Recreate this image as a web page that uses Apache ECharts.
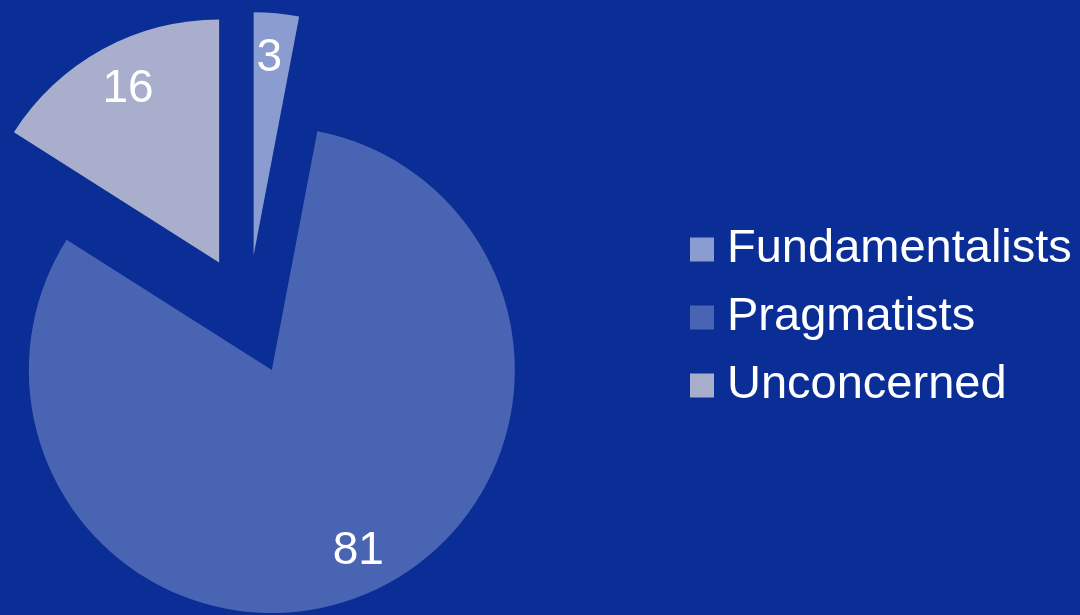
<!DOCTYPE html>
<html>
<head>
<meta charset="utf-8">
<script src="https://cdn.jsdelivr.net/npm/echarts@6/dist/echarts.min.js"></script>
<style>
html,body{margin:0;padding:0;background:#0A2D96;}
#chart{width:1080px;height:615px;}
</style>
</head>
<body>
<div id="chart"></div>
<script>
const categories = ['Fundamentalists', 'Pragmatists', 'Unconcerned'];
const values = [3, 81, 16];
const colors = ['#8B9DD0', '#4A64B4', '#A9AECC'];

const chart = echarts.init(document.getElementById('chart'));
const fontFamily = '"Liberation Sans", Arial, sans-serif';
const R = 243;
const center = [248, 315];
const offset = 60;
// padding used to nudge each inside label slightly
const labelPads = [[0, 6, 4, 0], [0, 0, 6, 16], [6, 0, 0, 8]];

const mainData = categories.map((n, i) => ({
  name: n, value: values[i], selected: true,
  itemStyle: { color: colors[i] }
}));
const labelData = categories.map((n, i) => ({
  name: n, value: values[i], selected: true,
  label: { padding: labelPads[i] }
}));

chart.setOption({
  backgroundColor: '#0A2D96',
  animation: false,
  legend: {
    orient: 'vertical',
    left: 685,
    top: 221,
    itemWidth: 24,
    itemHeight: 24,
    itemGap: 21,
    icon: 'rect',
    selectedMode: false,
    data: categories,
    textStyle: { color: '#ffffff', fontSize: 47, lineHeight: 47, fontFamily: fontFamily, padding: [0, 0, 0, 8] }
  },
  series: [
    {
      type: 'pie',
      center: center,
      radius: [0, R],
      startAngle: 90,
      clockwise: true,
      selectedMode: 'multiple',
      selectedOffset: offset,
      silent: true,
      label: { show: false },
      labelLine: { show: false },
      emphasis: { disabled: true },
      data: mainData
    },
    {
      type: 'pie',
      center: center,
      radius: [R * 0.6, R],
      startAngle: 90,
      clockwise: true,
      selectedMode: 'multiple',
      selectedOffset: offset,
      silent: true,
      legendHoverLink: false,
      itemStyle: { color: 'rgba(0,0,0,0)' },
      label: {
        show: true, position: 'inside', formatter: '{c}',
        color: '#ffffff', fontSize: 46, fontFamily: fontFamily,
        textBorderWidth: 0
      },
      select: { label: { color: '#ffffff' }, itemStyle: { color: 'rgba(0,0,0,0)' } },
      labelLine: { show: false },
      emphasis: { disabled: true },
      data: labelData
    }
  ]
});
</script>
</body>
</html>
